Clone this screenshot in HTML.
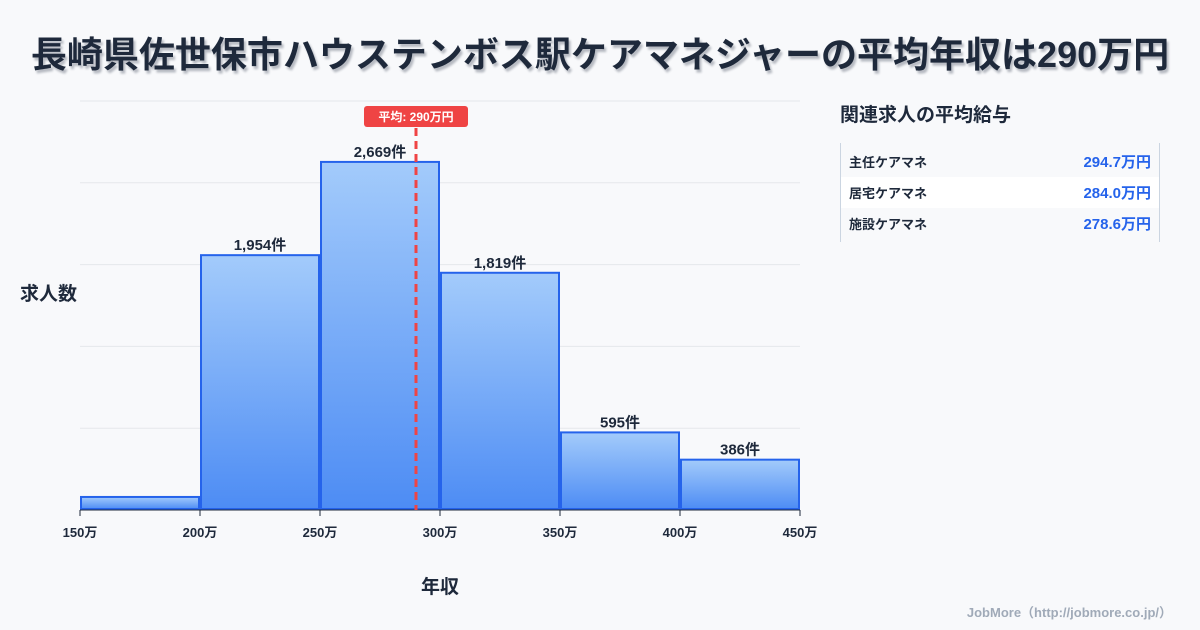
<!DOCTYPE html>
<html><head><meta charset="utf-8"><style>
body{margin:0;width:1200px;height:630px;background:#f8f9fb;font-family:"Liberation Sans","Noto Sans CJK JP",sans-serif;overflow:hidden;position:relative;color:#1e293b}
.title{position:absolute;left:0;top:26px;width:1200px;text-align:center;font-size:36px;font-weight:bold;color:#1e293b;text-shadow:2px 3px 2px rgba(30,41,59,0.3);letter-spacing:0px;white-space:nowrap}
.panel{position:absolute;left:840px;top:100px;width:320px}
.panel h3{margin:0 0 16px 0;font-size:19px;font-weight:bold}
.tbl{border-left:1px solid #cbd5e1;border-right:1px solid #cbd5e1;padding:3px 0}
.row{display:flex;justify-content:space-between;align-items:center;height:31px;padding:0 8px}
.row .n{font-size:13px;font-weight:bold;color:#1e293b}
.row .v{font-size:15px;font-weight:bold;color:#2563eb}
.credit{position:absolute;right:28px;top:602px;font-size:13px;color:#a0aab8;font-weight:bold}
</style></head><body>
<div class="title">長崎県佐世保市ハウステンボス駅ケアマネジャーの平均年収は290万円</div>
<svg id="chart" width="1200" height="630" style="position:absolute;left:0;top:0">
<defs><linearGradient id="g" x1="0" y1="0" x2="0" y2="1"><stop offset="0" stop-color="#a3cbfb"/><stop offset="1" stop-color="#4d8cf4"/></linearGradient></defs>
</svg>
<div class="panel">
<h3>関連求人の平均給与</h3>
<div class="tbl">
<div class="row"><span class="n">主任ケアマネ</span><span class="v">294.7万円</span></div>
<div class="row" style="background:#fff"><span class="n">居宅ケアマネ</span><span class="v">284.0万円</span></div>
<div class="row"><span class="n">施設ケアマネ</span><span class="v">278.6万円</span></div>
</div></div>
<div class="credit">JobMore（http://jobmore.co.jp/）</div>
<script>
const binStarts=[150,200,250,300,350,400];
const counts=[100,1954,2669,1819,595,386];
const labels=["","1,954件","2,669件","1,819件","595件","386件"];
const tickVals=[150,200,250,300,350,400,450];
const avgValue=290;
const avgLabel="平均: 290万円";
const NS="http://www.w3.org/2000/svg";
const svg=document.getElementById('chart');
const x0=80,x1=800,yB=510,yT=101;
const xMin=150,xMax=450;
const yMax=Math.max(...counts)*1.175;
const X=v=>x0+(v-xMin)/(xMax-xMin)*(x1-x0);
const Y=v=>yB-v/yMax*(yB-yT);
function mk(t,a,txt){const e=document.createElementNS(NS,t);for(const k in a)e.setAttribute(k,a[k]);if(txt!==undefined)e.textContent=txt;svg.appendChild(e);return e;}
for(let i=0;i<=5;i++){const y=yB-i*(yB-yT)/5;
const g=mk('line',{x1:x0,x2:x1,y1:y,y2:y,stroke:'#e5e7eb','stroke-width':1});

}
const bw=50;
binStarts.forEach((s,i)=>{const xa=X(s)+1,xb=X(s+bw)-1,y=Y(counts[i]);
const r=mk('rect',{x:xa,y:y,width:xb-xa,height:yB-y-1,fill:'url(#g)',stroke:'#2563eb','stroke-width':2});


if(labels[i]){const t=mk('text',{x:(xa+xb)/2,y:y-5,'text-anchor':'middle','font-size':15,'font-weight':'bold',fill:'#1e293b'},labels[i]);

}});
const ax=mk('line',{x1:x0,x2:x1,y1:yB,y2:yB,stroke:'#1e293b','stroke-width':1});


tickVals.forEach(v=>{const tk=mk('line',{x1:X(v),x2:X(v),y1:yB,y2:yB+6,stroke:'#1e293b'});


const t=mk('text',{x:X(v),y:yB+27,'text-anchor':'middle','font-size':13,'font-weight':'bold',fill:'#1e293b'},v+'万');

});
const ax2=X(avgValue);
const al=mk('line',{x1:ax2,x2:ax2,y1:128,y2:yB,stroke:'#ef4444','stroke-width':3,'stroke-dasharray':'8,5'});


const ab=mk('rect',{x:ax2-52,y:106,width:104,height:21,rx:3,fill:'#ef4444'});


const at=mk('text',{x:ax2,y:121,'text-anchor':'middle','font-size':12,'font-weight':'bold',fill:'#fff'},avgLabel);


const yt=mk('text',{x:20,y:300,'font-size':19,'font-weight':'bold',fill:'#1e293b'},'求人数');


const xt=mk('text',{x:440,y:593,'text-anchor':'middle','font-size':19,'font-weight':'bold',fill:'#1e293b'},'年収');


</script>
</body></html>
